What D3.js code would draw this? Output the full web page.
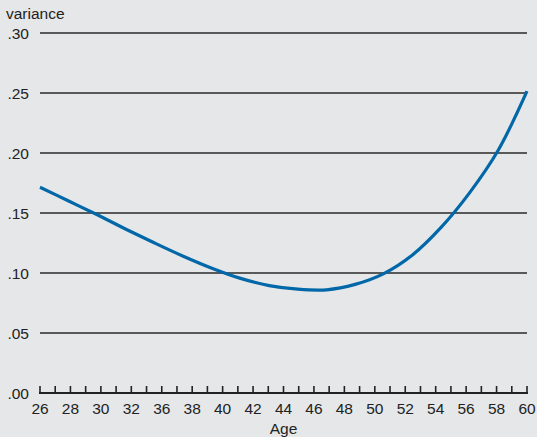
<!DOCTYPE html>
<html>
<head>
<meta charset="utf-8">
<script src="https://cdn.jsdelivr.net/npm/d3@7"></script>
<style>
  body { margin: 0; background: #e6e7e9; }
  svg { display: block; font-family: "Liberation Sans", Arial, sans-serif; }
</style>
</head>
<body>
<div id="chartWrapper"></div>
<script>
// values
var ages = [26, 28, 30, 32, 34, 36, 38, 40, 42, 44, 46, 48, 50, 52, 54, 56, 58, 60];
var variance = [.1715, .160, .1485, .1365, .125, .114, .104, .0955, .0895, .0865, .086, .0905, .0995, .115, .138, .167, .2025, .2515];
// x labels as printed (34 is missing in the original)
var xLabels = ["26", "28", "30", "32", "36", "38", "40", "42", "44", "46", "48", "50", "52", "54", "56", "58", "60"];
var yTicks = [0, .05, .10, .15, .20, .25, .30];

var w = 537, h = 437;
var mLeft = 40, mRight = 527, mTop = 33, mBottom = 393;
var fs = "15.5px";

var svg = d3.select("#chartWrapper")
    .append("svg")
    .attr("width", w)
    .attr("height", h);

svg.append("rect")
    .attr("width", w)
    .attr("height", h)
    .style("fill", "#e6e7e9");

var x = d3.scaleLinear().domain([26, 60]).range([mLeft, mRight]);
var y = d3.scaleLinear().domain([0, .30]).range([mBottom, mTop]);
var xl = d3.scalePoint().domain(xLabels).range([mLeft, mRight]);

// grid lines
svg.selectAll(".grid")
    .data(yTicks.filter(function(d){ return d > 0; }))
    .enter().append("line")
    .attr("class", "grid")
    .attr("x1", mLeft)
    .attr("x2", mRight)
    .attr("y1", function(d){ return y(d); })
    .attr("y2", function(d){ return y(d); })
    .attr("stroke", "#2a2a2a")
    .attr("stroke-width", 1.6);

// y labels
svg.selectAll(".ylab")
    .data(yTicks)
    .enter().append("text")
    .attr("class", "ylab")
    .attr("x", 29)
    .attr("y", function(d){ return y(d) + 5.5; })
    .attr("text-anchor", "end")
    .style("font-size", fs)
    .style("fill", "#222")
    .text(function(d){ return d3.format(".2f")(d).replace(/^0/, ""); });

svg.append("text")
    .attr("x", 6)
    .attr("y", 19)
    .style("font-size", fs)
    .style("fill", "#222")
    .text("variance");

// x axis: line, ticks at every half label step, labels
var step = xl.step() / 2;
var tickPos = d3.range(xLabels.length * 2 - 1).map(function(i){ return mLeft + i * step; });

svg.append("line")
    .attr("x1", mLeft - 1)
    .attr("x2", mRight + 1)
    .attr("y1", mBottom)
    .attr("y2", mBottom)
    .attr("stroke", "#222")
    .attr("stroke-width", 2.2);

svg.selectAll(".xtick")
    .data(tickPos)
    .enter().append("line")
    .attr("class", "xtick")
    .attr("x1", function(d){ return d; })
    .attr("x2", function(d){ return d; })
    .attr("y1", mBottom)
    .attr("y2", mBottom - 7)
    .attr("stroke", "#222")
    .attr("stroke-width", 1.6);

svg.selectAll(".xlab")
    .data(xLabels)
    .enter().append("text")
    .attr("class", "xlab")
    .attr("x", function(d){ return xl(d); })
    .attr("y", 414)
    .attr("text-anchor", "middle")
    .style("font-size", fs)
    .style("fill", "#222")
    .text(function(d){ return d; });

svg.append("text")
    .attr("x", (mLeft + mRight) / 2)
    .attr("y", 434)
    .attr("text-anchor", "middle")
    .style("font-size", fs)
    .style("fill", "#222")
    .text("Age");

// the curve
var line = d3.line()
    .x(function(d, i){ return x(ages[i]); })
    .y(function(d){ return y(d); })
    .curve(d3.curveCatmullRom);

svg.append("path")
    .datum(variance)
    .attr("d", line)
    .attr("fill", "none")
    .attr("stroke", "#0067a8")
    .attr("stroke-width", 3.2);
</script>
</body>
</html>
